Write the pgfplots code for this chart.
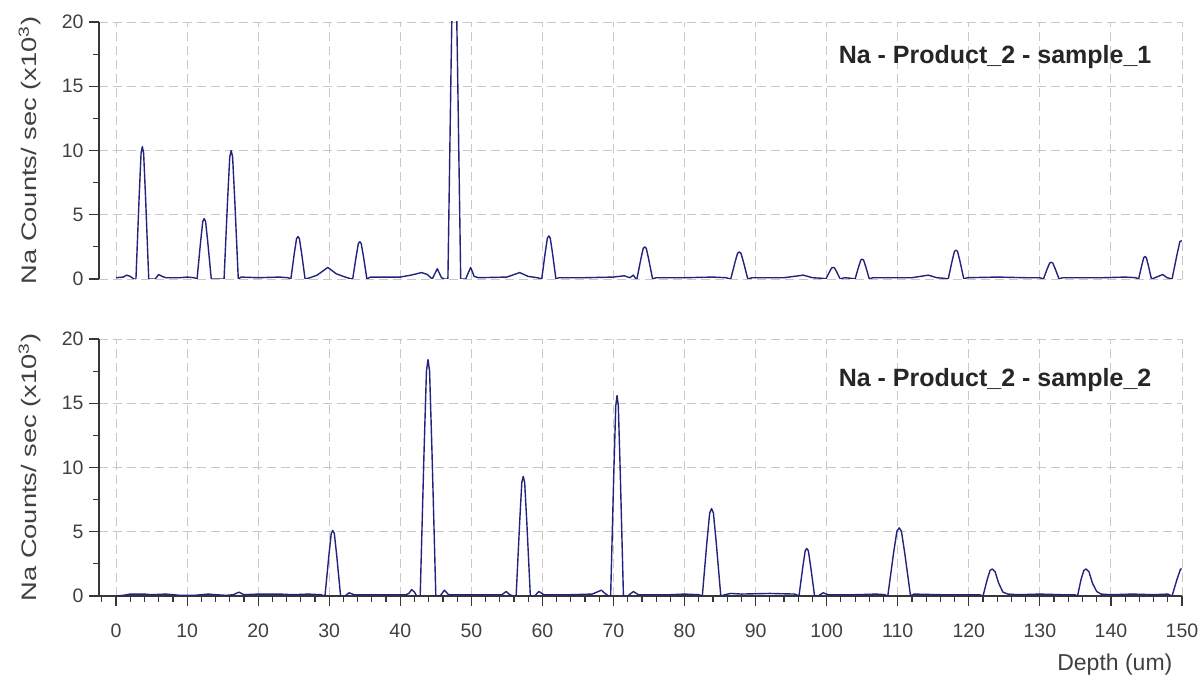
\documentclass[border=0pt]{standalone}
\usepackage{pgfplots}
\pgfplotsset{compat=1.18}
\usepackage{fontspec}
\setmainfont{Liberation Sans}

\definecolor{trace}{RGB}{35,35,125}
\definecolor{gridc}{RGB}{200,200,200}
\definecolor{axisc}{RGB}{55,55,55}

\tikzset{tk/.style={draw=axisc, line width=1.2pt}}

\pgfplotsset{
  panel/.style={
    scale only axis, width=1083pt, height=257pt,
    xmin=-2.4, xmax=150, ymin=0, ymax=20,
    clip mode=individual,
    axis x line*=bottom, axis y line*=left,
    axis line style={-, draw=axisc, line width=1.2pt},
    xtick={0,10,...,150}, minor x tick num=4,
    ytick={0,5,...,20}, minor y tick num=1,
    xtick align=outside, ytick align=outside,
    major tick length=10pt, minor tick length=6pt,
    every tick/.style={draw=axisc, solid, line width=1.2pt},
    grid=major,
    major grid style={draw=gridc, dash pattern=on 9pt off 5pt, line width=0.9pt},
    tick label style={font=\fontsize{19.5}{22}\selectfont, text=black!75},
    /pgf/number format/assume math mode=true,
    yticklabel shift=2pt,
    xticklabel shift=14pt,
    ylabel={Na Counts/ sec (x10\textsuperscript{3})},
    ylabel style={at={(axis description cs:-0.064,0.5)}, anchor=center,
      font=\fontsize{21}{24}\selectfont, text=black!75, xscale=1.3},
  },
  line/.style={trace, line width=1.4pt, line join=round, mark=none},
}

\begin{document}
\begin{tikzpicture}
\path[use as bounding box] (0,0) rectangle (1203pt,677pt);

% sample 1
\begin{axis}[panel, at={(99pt,398pt)}, anchor=south west,
  x axis line style={draw=none},
  xtick=\empty, extra x ticks={0,10,...,150}, extra x tick labels={},
  extra x tick style={grid=major, major tick length=0pt}]
\pgfplotsinvokeforeach{0,2.5,...,20}{\draw[tk] (axis cs:-2.4,#1) -- ++(-6pt,0pt);}
\pgfplotsinvokeforeach{0,5,...,20}{\draw[tk] (axis cs:-2.4,#1) -- ++(-10pt,0pt);}
\addplot[line] coordinates {
(0,0.1) (1,0.15) (1.5,0.3) (2,0.2) (2.5,0)
(2.8,0) (3.25,6.39) (3.52,9.79) (3.7,10.3) (3.88,9.79) (4.15,6.39) (4.6,0)
(5.5,0) (6,0.35) (6.5,0.2) (7,0.1) (9,0.1) (10,0.15) (11,0.1)
(11.4,0) (11.9,2.91) (12.2,4.47) (12.4,4.7) (12.6,4.47) (12.9,2.91) (13.4,0)
(14,0) (14.8,0)
(15.2,0) (15.7,6.2) (16.0,9.5) (16.2,10) (16.4,9.5) (16.7,6.2) (17.2,0)
(17.6,0.15) (20,0.1) (23,0.15) (24.2,0.1)
(24.6,0) (25.1,2.05) (25.4,3.14) (25.6,3.3) (25.8,3.14) (26.1,2.05) (26.6,0)
(27.3,0.1) (28.3,0.3) (29.8,0.9) (31,0.4) (32,0.2) (32.8,0.05)
(33.3,0) (33.8,1.8) (34.1,2.76) (34.3,2.9) (34.5,2.76) (34.8,1.8) (35.3,0)
(35.8,0.15) (40,0.15) (41.5,0.3) (43,0.5) (43.8,0.35) (44.5,0) (45.2,0.8) (45.8,0.1) (46.2,0)
(46.7,0) (47.15,16.7) (47.42,25.7) (47.6,27) (47.78,25.7) (48.05,16.7) (48.5,0)
(49.2,0) (49.9,0.9) (50.4,0.2) (51,0.1) (55,0.15) (56.8,0.5) (58,0.2) (59.3,0.1)
(59.9,0) (60.4,2.08) (60.7,3.18) (60.9,3.35) (61.1,3.18) (61.4,2.08) (61.9,0)
(62.3,0.1) (66,0.1) (70,0.15) (71.5,0.25) (72.3,0.1) (72.8,0.3) (73.1,0.05)
(73.3,0) (73.85,1.55) (74.18,2.38) (74.4,2.5) (74.62,2.38) (74.95,1.55) (75.5,0)
(76,0.1) (80,0.1) (84,0.15) (85.8,0.1)
(86.5,0) (87.1,1.3) (87.46,2.0) (87.7,2.1) (87.94,2.0) (88.3,1.3) (88.9,0)
(89.5,0.1) (94,0.1) (96.7,0.3) (98,0.1) (99.5,0.05)
(99.9,0) (100.4,0.56) (100.7,0.86) (100.9,0.9) (101.1,0.86) (101.4,0.56) (101.9,0)
(102.5,0.1) (103.5,0.05)
(104,0) (104.5,0.96) (104.8,1.47) (105,1.55) (105.2,1.47) (105.5,0.96) (106,0)
(106.5,0.1) (112,0.1) (114.3,0.3) (115.5,0.1) (116.6,0.05)
(117.1,0) (117.65,1.4) (117.98,2.14) (118.2,2.25) (118.42,2.14) (118.75,1.4) (119.3,0)
(119.8,0.1) (124,0.15) (128,0.1) (130,0.1)
(130.5,0) (131.05,0.81) (131.38,1.24) (131.6,1.3) (131.82,1.24) (132.15,0.81) (132.7,0)
(133.2,0.1) (139,0.1) (142,0.15) (143.5,0.1)
(143.9,0) (144.35,1.09) (144.62,1.66) (144.8,1.75) (144.98,1.66) (145.25,1.09) (145.7,0)
(146.2,0.1) (147.3,0.35) (147.9,0.1) (148.6,0) (149.3,1.9) (149.7,2.9) (150,3.0)
};
\node[anchor=east, font=\bfseries\fontsize{25}{28}\selectfont, text=black!85]
  at (rel axis cs:0.975,0.864) {Na - Product\_2 - sample\_1};
\end{axis}

% sample 2
\begin{axis}[panel, at={(99pt,81pt)}, anchor=south west,
  xlabel={Depth (um)},
  xlabel style={at={(axis description cs:0.938,-0.265)}, anchor=center,
    font=\fontsize{23}{26}\selectfont, text=black!75}]
\pgfplotsinvokeforeach{0,2.5,...,20}{\draw[tk] (axis cs:-2.4,#1) -- ++(-6pt,0pt);}
\pgfplotsinvokeforeach{0,5,...,20}{\draw[tk] (axis cs:-2.4,#1) -- ++(-10pt,0pt);}
\pgfplotsinvokeforeach{-2,0,...,150}{\draw[tk] (axis cs:#1,0) -- ++(0pt,-6pt);}
\pgfplotsinvokeforeach{0,10,...,150}{\draw[tk] (axis cs:#1,0) -- ++(0pt,-10pt);}
\addplot[line] coordinates {
(0,0) (1,0.05) (2,0.15) (4,0.15) (5,0.1) (7,0.15) (9,0.05) (11,0.05) (13,0.15)
(14,0.1) (15.5,0.05) (16.5,0.1) (17.3,0.3) (18,0.1) (20,0.15) (23,0.15) (25,0.1)
(27,0.15) (28.8,0.1)
(29.4,0) (29.95,3.16) (30.28,4.85) (30.5,5.1) (30.72,4.85) (31.05,3.16) (31.6,0)
(32.2,0) (32.8,0.25) (33.5,0.1) (36,0.1) (39,0.1) (40.8,0.1) (41.2,0.2) (41.6,0.5) (42.0,0.3) (42.3,0)
(42.8,0) (43.35,11.4) (43.68,17.5) (43.9,18.4) (44.12,17.5) (44.45,11.4) (45,0)
(45.6,0) (46.2,0.45) (46.8,0.1) (48,0.1) (52,0.1) (54.3,0.1) (54.9,0.35) (55.4,0.1) (55.9,0)
(56.3,0) (56.8,5.77) (57.1,8.84) (57.3,9.3) (57.5,8.84) (57.8,5.77) (58.3,0)
(58.9,0) (59.5,0.35) (60.2,0.1) (64,0.1) (67,0.15) (68.3,0.45) (68.8,0.2) (69.3,0)
(69.6,0) (70.05,9.67) (70.32,14.8) (70.5,15.6) (70.68,14.8) (70.95,9.67) (71.4,0)
(72,0) (72.8,0.35) (73.5,0.1) (78,0.1) (80,0.15) (82,0.1)
(82.5,0) (83.15,4.22) (83.54,6.46) (83.8,6.8) (84.06,6.46) (84.45,4.22) (85.1,0)
(85.7,0.1) (86.5,0.2) (88,0.15) (92,0.2) (95.5,0.15)
(96.1,0) (96.65,2.29) (96.98,3.52) (97.2,3.7) (97.42,3.52) (97.75,2.29) (98.3,0)
(98.8,0) (99.5,0.25) (100.2,0.1) (104,0.1) (107,0.15) (108.2,0.1)
(108.6,0) (109.4,3.29) (109.88,5.04) (110.2,5.3) (110.52,5.04) (111,3.29) (111.8,0)
(112.3,0.15) (116,0.1) (119,0.1) (121.5,0.1)
(122,0) (122.6,1.3) (123,2.0) (123.3,2.1) (123.7,1.9) (124.2,1.0) (124.8,0.3) (125.5,0.15)
(127,0.1) (130,0.15) (133,0.1) (134.9,0.1)
(135.3,0) (135.8,1.3) (136.2,2.0) (136.5,2.1) (136.9,1.9) (137.4,1.0) (138,0.35) (138.6,0.15)
(140,0.1) (143,0.15) (146,0.1) (148,0.15)
(148.6,0) (149.3,1.3) (149.8,2.1) (150,2.1)
};
\node[anchor=east, font=\bfseries\fontsize{25}{28}\selectfont, text=black!85]
  at (rel axis cs:0.975,0.84) {Na - Product\_2 - sample\_2};
\end{axis}
\end{tikzpicture}
\end{document}
